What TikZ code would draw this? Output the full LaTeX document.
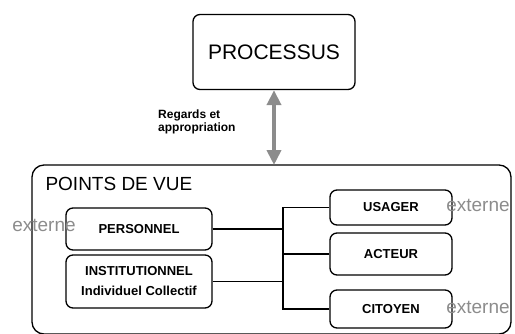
\documentclass[tikz,border=0pt]{standalone}
\usepackage{fontspec}
\setmainfont{Liberation Sans}
\usetikzlibrary{arrows.meta}
\begin{document}
\begin{tikzpicture}[x=1pt,y=-1pt,
  box/.style={draw,line width=1.3pt,rounded corners=7pt,inner sep=0pt},
  small/.style={font=\fontsize{13}{14}\selectfont\bfseries},
  ext/.style={text=black!45,font=\fontsize{19}{20}\selectfont},
  conn/.style={line width=1.3pt}]
\useasboundingbox (0,0) rectangle (515,333);
\node[box,minimum width=162pt,minimum height=75pt,font=\fontsize{21}{22}\selectfont] (proc) at (274,52) {PROCESSUS};
\draw[box,rounded corners=12pt] (32,165) rectangle (511,334);
\coordinate (pv) at (274,165);
\node[anchor=north west,font=\fontsize{19}{20}\selectfont] (pvt) at (42,174) {POINTS DE VUE};
\draw[line width=4pt,draw=black!45,{Triangle[width=14pt,length=15pt]}-{Triangle[width=14pt,length=15pt]}] (proc.south) -- (pv);
\node[align=left,font=\fontsize{12}{13}\selectfont\bfseries,anchor=west,inner sep=0pt] (reg) at (158,122) {Regards et\\appropriation};
\node[box,minimum width=146pt,minimum height=42pt,small] (pers) at (139,229) {PERSONNEL};
\node[box,minimum width=146pt,minimum height=53pt,small,align=center] (inst) at (139,281.5) {INSTITUTIONNEL\\[6pt]Individuel Collectif};
\node[box,minimum width=122pt,minimum height=35pt,small] (usa) at (391,207.5) {USAGER};
\node[box,minimum width=122pt,minimum height=42pt,small] (act) at (391,254) {ACTEUR};
\node[box,minimum width=122pt,minimum height=38pt,small] (cit) at (391,309) {CITOYEN};
\node[ext] (e1) at (44,225) {externe};
\node[ext] (e2) at (478,205) {externe};
\node[ext] (e3) at (478,307) {externe};
\coordinate (bus) at (283,0);
\draw[conn] (pers.east) -- (pers.east -| bus);
\draw[conn] (inst.east) -- (inst.east -| bus);
\draw[conn] (usa.west) -| (bus |- cit.west) -- (cit.west);
\draw[conn] (act.west) -- (act.west -| bus);
\end{tikzpicture}
\end{document}
